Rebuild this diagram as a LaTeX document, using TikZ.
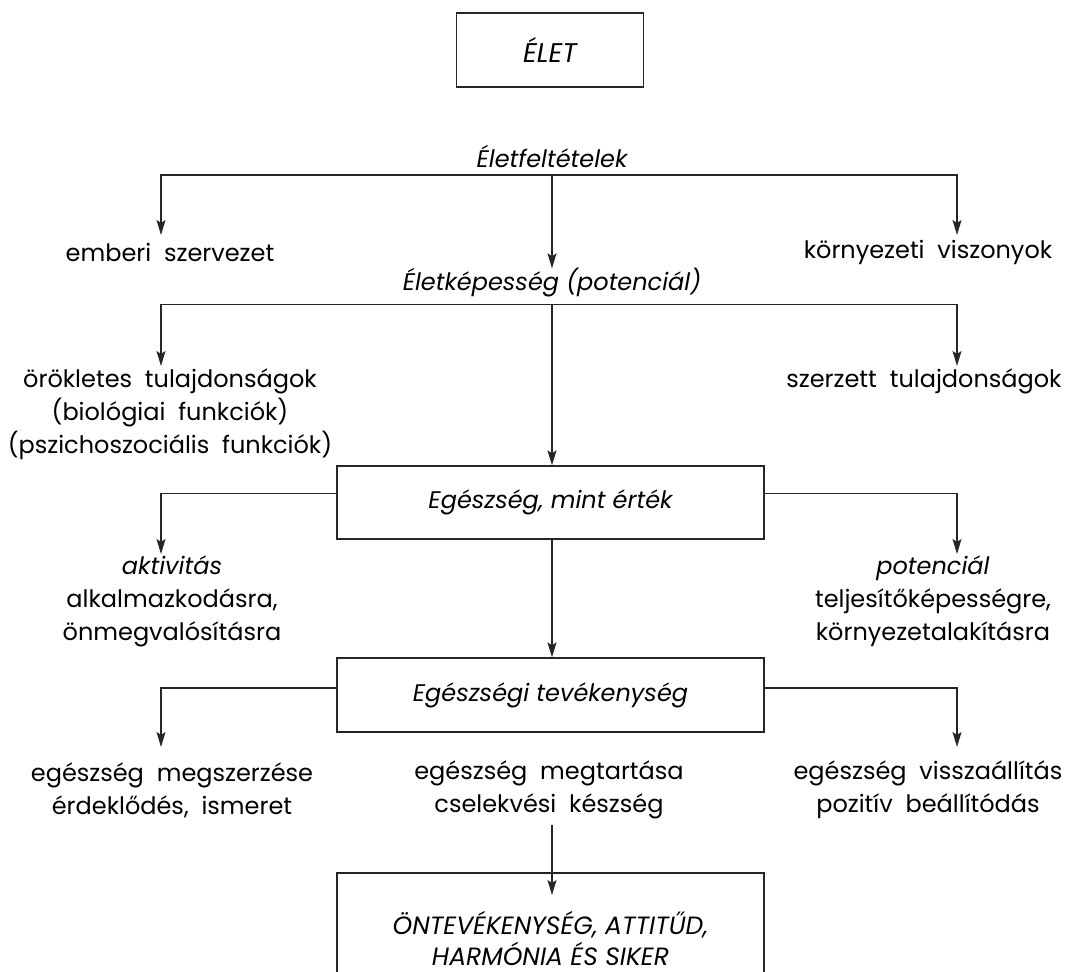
\documentclass[tikz,border=0pt]{standalone}
\usepackage{fontspec}
\setmainfont{Poppins}
\usetikzlibrary{arrows.meta}
\begin{document}
\begin{tikzpicture}[x=1pt,y=-1pt,
  line/.style={draw=black!85, line width=1.3pt},
  arr/.style={line, -{Stealth[length=15pt,width=9pt,inset=3pt]}},
  box/.style={draw=black!85, line width=1.3pt, inner sep=0pt, align=center,
    font=\itshape\fontsize{24}{32}\selectfont},
  lbl/.style={inner sep=0pt, align=center, font=\fontsize{24}{33}\selectfont},
  ilbl/.style={inner sep=0pt, align=center, font=\itshape\fontsize{24}{33}\selectfont}]
\useasboundingbox (0,0) rectangle (1069,972);

% boxes
\node[box, minimum width=187pt, minimum height=74pt, font=\itshape\fontsize{27}{32}\selectfont] (elet) at (550,50) {ÉLET};
\node[box, minimum width=427pt, minimum height=73pt] (ert) at (550.5,502.5) {Egészség, mint érték};
\node[box, minimum width=427pt, minimum height=74pt] (tev) at (550.5,695) {Egészségi tevékenység};
\node[box, minimum width=427pt, minimum height=130pt, font=\itshape\fontsize{25}{31}\selectfont] (ont) at (550.5,938)
  {ÖNTEVÉKENYSÉG, ATTITŰD,\\ HARMÓNIA ÉS SIKER};

% labels
\node[ilbl] (felt) at (552,156) {Életfeltételek};
\node[lbl] (emb) at (170,252) {emberi\ \ szervezet};
\node[lbl] (kor) at (928,252) {környezeti\ \ viszonyok};
\node[ilbl] (kep) at (552,283) {Életképesség (potenciál)};
\node[lbl] (ork) at (170,414) {örökletes\ \ tulajdonságok\\ (biológiai\ \ funkciók)\\ (pszichoszociális\ \ funkciók)};
\node[lbl] (sze) at (924,381) {szerzett\ \ tulajdonságok};
\node[lbl] (akt) at (172,601) {\textit{aktivitás}\\ alkalmazkodásra,\\ önmegvalósításra};
\node[lbl] (pot) at (933,601) {\textit{potenciál}\\ teljesítőképességre,\\ környezetalakításra};
\node[lbl] (msz) at (172,790) {egészség\ \ megszerzése\\ érdeklődés,\ \ ismeret};
\node[lbl] (mta) at (549,790) {egészség\ \ megtartása\\ cselekvési\ \ készség};
\node[lbl] (vis) at (928,790) {egészség\ \ visszaállítás\\ pozitív\ \ beállítódás};

% junctions and arrow tips
\coordinate (j1) at (552,175);
\coordinate (a1l) at (161,235);
\coordinate (a1r) at (957,235);
\coordinate (j2) at (552,304.5);
\coordinate (a2l) at (161,366);
\coordinate (a2r) at (957,366);
\coordinate (a3l) at (161,554);
\coordinate (a3r) at (957,554);
\coordinate (a4l) at (161,747);
\coordinate (a4r) at (957,747);
\coordinate (a5) at (552,895);

% connectors
\draw[arr] (j1) -| (a1l);
\draw[arr] (j1) -| (a1r);
\draw[arr] (j1) -- (j1 |- kep.north);
\draw[arr] (j2) -| (a2l);
\draw[arr] (j2) -| (a2r);
\draw[arr] (j2) -- (j2 |- ert.north);
\draw[arr] ([yshift=9pt]ert.west) -| (a3l);
\draw[arr] ([yshift=9pt]ert.east) -| (a3r);
\draw[arr] (j2 |- ert.south) -- (j2 |- tev.north);
\draw[arr] ([yshift=7pt]tev.west) -| (a4l);
\draw[arr] ([yshift=7pt]tev.east) -| (a4r);
\draw[arr] (mta.south -| a5) ++(0,6) -- (a5);
\end{tikzpicture}
\end{document}
